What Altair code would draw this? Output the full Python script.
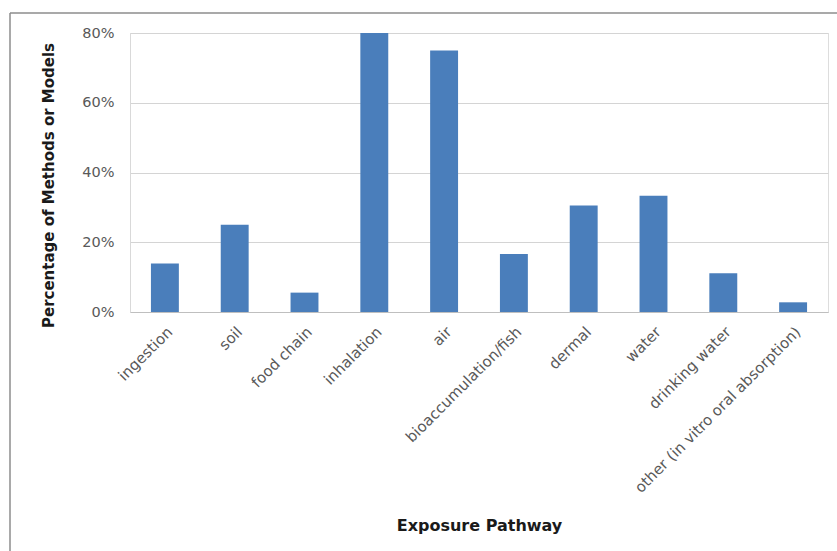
import altair as alt
import pandas as pd

# Exposure pathways covered by the reviewed methods / models
pathways = [
    "ingestion", "soil", "food chain", "inhalation", "air",
    "bioaccumulation/fish", "dermal", "water", "drinking water",
    "other (in vitro oral absorption)",
]
# Share of the 36 methods or models addressing each pathway
shares = [5/36, 9/36, 2/36, 29/36, 27/36, 6/36, 11/36, 12/36, 4/36, 1/36]
y_ticks = [0, 0.2, 0.4, 0.6, 0.8]

df = pd.DataFrame({"pathway": pathways, "share": shares})

FONT = "DejaVu Sans"
TEXT_GRAY = "#595959"

bars = alt.Chart(df).mark_bar(color="#4A7EBB", clip=True).encode(
    x=alt.X(
        "pathway:N",
        sort=pathways,
        scale=alt.Scale(paddingInner=0.6, paddingOuter=0.3),
        axis=alt.Axis(
            title="Exposure Pathway",
            titleFont=FONT, titleFontSize=16, titleFontWeight="bold",
            titleColor="#1a1a1a",
            titleX=349, titleY=213, titleBaseline="middle",
            titleAlign="center", titleAnchor="start",
            labelAngle=-45, labelAlign="right", labelBaseline="top",
            labelFont=FONT, labelFontSize=15, labelLimit=400,
            labelColor=TEXT_GRAY, labelPadding=12,
            ticks=False, domainColor="#bfbfbf", domainWidth=1,
        ),
    ),
    y=alt.Y(
        "share:Q",
        scale=alt.Scale(domain=[0, 0.8], nice=False),
        axis=alt.Axis(
            title="Percentage of Methods or Models",
            titleFont=FONT, titleFontSize=15, titleFontWeight="bold",
            titleColor="#1a1a1a",
            titleX=-82, titleY=152, titleAngle=-90,
            titleAlign="center", titleBaseline="middle",
            values=y_ticks, format=".0%",
            labelFont=FONT, labelFontSize=14.5, labelColor=TEXT_GRAY,
            labelPadding=16, ticks=False,
            domainColor="#d9d9d9",
            gridColor="#d4d4d4", gridWidth=1.2,
        ),
    ),
)

# Chart-area frame (left and top edges)
frame = alt.Chart(alt.Data(values=[{}])).mark_rule(
    color="#8c8c8c", strokeWidth=1.5, clip=False
)
left_edge = frame.encode(x=alt.value(-120), y=alt.value(-20), y2=alt.value(520))
top_edge = frame.encode(x=alt.value(-120), x2=alt.value(710), y=alt.value(-20))

chart = alt.layer(bars, left_edge, top_edge).properties(
    width=698,
    height=279,
    autosize=alt.AutoSizeParams(type="none"),
    padding={"left": 130, "top": 33, "right": 9, "bottom": 239},
).configure_view(stroke=None).configure(background="white")

chart.save("out.html", embed_options={"renderer": "svg", "actions": False})
